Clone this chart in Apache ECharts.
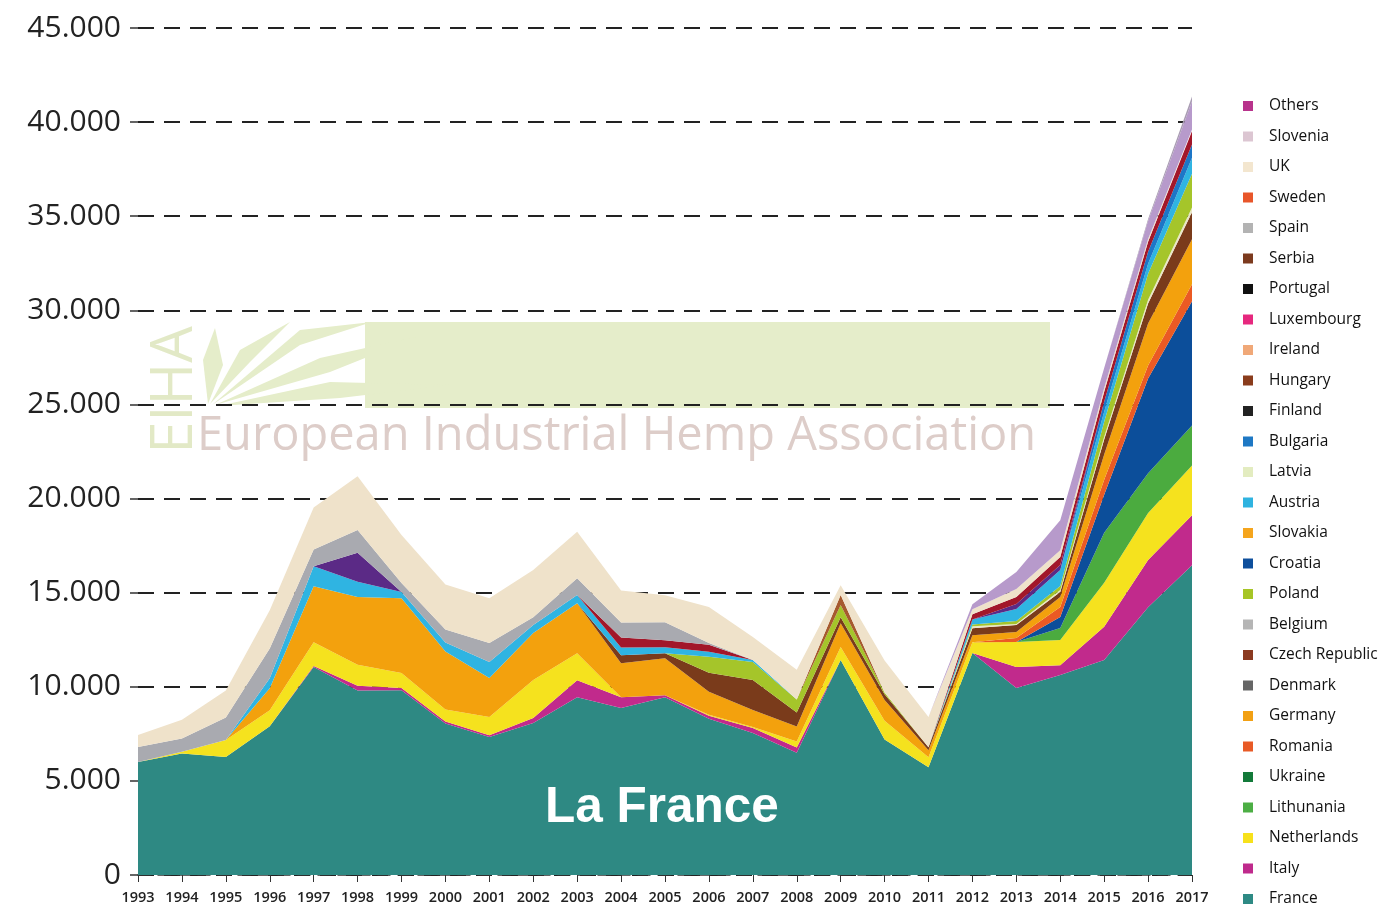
<!DOCTYPE html>
<html>
<head>
<meta charset="utf-8">
<script src="https://cdn.jsdelivr.net/npm/echarts@6/dist/echarts.min.js"></script>
<style>html,body{margin:0;padding:0;background:#fff}#c{width:1385px;height:908px}</style>
</head>
<body>
<div id="c"></div>
<script>
var years = ['1993','1994','1995','1996','1997','1998','1999','2000','2001','2002','2003','2004','2005','2006','2007','2008','2009','2010','2011','2012','2013','2014','2015','2016','2017'];
var yTicks = [0,5000,10000,15000,20000,25000,30000,35000,40000,45000];

var france      = [6000,6450,6270,7900,11050,9800,9820,8050,7330,8070,9450,8870,9450,8300,7540,6500,11420,7200,5730,11790,9930,10620,11420,14230,16460];
var italy       = [0,0,0,0,50,250,110,100,100,270,900,580,100,160,270,270,0,0,0,0,1120,530,1770,2500,2650];
var netherlands = [0,100,900,850,1270,1115,800,640,960,2020,1430,0,0,50,50,320,690,1000,530,580,1330,1330,2340,2500,2650];
var lithunania  = [0,0,0,0,0,0,0,0,0,0,0,0,0,0,0,0,0,0,0,0,0,640,2655,2120,2120];
var ukraine     = [0,0,0,0,0,0,0,0,0,0,0,0,0,0,0,0,0,0,0,0,0,0,0,0,0];
var croatia     = [0,0,0,0,0,0,0,0,0,0,0,0,0,0,0,0,0,0,0,0,0,590,2020,5030,6600];
var romania     = [0,0,0,0,0,0,0,0,0,0,0,0,0,0,0,0,0,0,0,0,210,530,800,690,900];
var germany     = [0,0,0,1170,2970,3610,3980,3080,2070,2500,2660,1800,1960,1220,900,800,1270,1100,370,370,320,530,1330,2230,2400];
var denmark     = [0,0,0,0,0,0,0,0,0,0,0,0,0,0,0,0,0,0,0,0,0,0,0,0,0];
var czech       = [0,0,0,0,0,0,0,0,0,0,0,420,270,1010,1600,740,320,300,160,370,370,270,800,1060,1430];
var latvia      = [0,0,0,0,0,0,0,0,0,0,0,0,0,0,0,0,0,0,0,100,50,100,150,200,250];
var poland      = [0,0,0,0,0,0,0,0,0,0,0,0,0,850,960,690,640,100,0,100,160,210,800,1380,1800];
var hungary     = [0,0,0,0,0,0,0,0,0,0,0,0,0,0,0,0,530,0,0,0,0,0,0,0,0];
var austria     = [0,0,0,530,1060,800,320,480,850,420,440,420,320,270,100,0,0,0,0,270,640,850,530,530,850];
var bulgaria    = [0,0,0,0,0,0,0,0,0,0,0,0,0,0,0,0,0,0,0,0,0,0,530,640,700];
var finland     = [0,0,0,0,0,1540,0,0,0,0,0,0,0,0,0,0,0,0,0,0,270,270,0,0,0];
var serbia      = [0,0,0,0,0,0,0,0,0,0,0,530,370,370,0,0,0,0,0,270,370,420,530,530,700];
var belgium     = [0,0,0,0,0,0,0,0,0,0,0,0,0,0,0,0,0,0,0,0,0,0,0,0,0];
var ireland     = [0,0,0,0,0,0,0,0,0,0,0,0,0,0,0,0,0,0,0,0,0,0,0,0,0];
var luxembourg  = [0,0,0,0,0,0,0,0,0,0,0,0,0,0,0,0,0,0,0,0,0,0,0,0,0];
var portugal    = [0,0,0,0,0,0,0,0,0,0,0,0,0,0,0,0,0,0,0,0,0,0,0,0,0];
var slovakia    = [0,0,0,0,0,0,0,0,0,0,0,0,0,0,0,0,0,0,0,0,0,0,0,0,0];
var sweden      = [0,0,0,0,0,0,0,0,0,0,0,0,0,0,0,0,0,0,0,0,0,0,0,0,0];
var spain       = [800,700,1200,1590,900,1220,480,690,1010,420,880,800,960,100,0,0,0,0,0,0,0,0,0,0,0];
var uk          = [640,1000,1430,2020,2230,2850,2550,2390,2390,2500,2480,1700,1430,1910,1220,1590,530,1700,1600,270,430,370,200,150,100];
var slovenia    = [0,0,0,0,0,0,0,0,0,0,0,0,0,0,0,0,0,0,0,270,900,1590,1060,960,1500];
var others      = [0,0,0,0,0,0,0,0,0,0,0,0,0,0,0,0,0,0,0,0,0,0,0,100,250];

var legendOrder = ['Others','Slovenia','UK','Sweden','Spain','Serbia','Portugal','Luxembourg','Ireland','Hungary','Finland','Bulgaria','Latvia','Austria','Slovakia','Croatia','Poland','Belgium','Czech Republic','Denmark','Germany','Romania','Ukraine','Lithunania','Netherlands','Italy','France'];

// stacking order bottom -> top : [name, data, legend colour, area colour]
var stackDef = [
  ['France', france, '#2e8a84', '#2e8983'],
  ['Italy', italy, '#bf2a8c', '#c12a8c'],
  ['Netherlands', netherlands, '#f7e11b', '#f5e21e'],
  ['Lithunania', lithunania, '#4cae44', '#4bab3f'],
  ['Ukraine', ukraine, '#137a3a', '#137a3a'],
  ['Croatia', croatia, '#0e4f9c', '#0c4e9a'],
  ['Romania', romania, '#e85a26', '#eb5a24'],
  ['Germany', germany, '#f2a013', '#f3a10d'],
  ['Slovakia', slovakia, '#f5a51d', '#f5a51d'],
  ['Denmark', denmark, '#666666', '#666666'],
  ['Czech Republic', czech, '#8b3a20', '#7a3b1b'],
  ['Latvia', latvia, '#e3ecc0', '#eae6c6'],
  ['Poland', poland, '#a6c526', '#a5c52a'],
  ['Hungary', hungary, '#8a3c1c', '#a65a2e'],
  ['Austria', austria, '#2fb3e0', '#2fb4e2'],
  ['Bulgaria', bulgaria, '#1e78c4', '#1d76c7'],
  ['Finland', finland, '#222222', '#5b2a86'],
  ['Serbia', serbia, '#7c3a1e', '#a2172a'],
  ['Belgium', belgium, '#b5b5b5', '#b5b5b5'],
  ['Ireland', ireland, '#f0a878', '#f0a878'],
  ['Luxembourg', luxembourg, '#e6287e', '#e6287e'],
  ['Portugal', portugal, '#111111', '#111111'],
  ['Sweden', sweden, '#e8562a', '#e8562a'],
  ['Spain', spain, '#b3b3b3', '#a9aab0'],
  ['UK', uk, '#f3e6cf', '#efe2ca'],
  ['Slovenia', slovenia, '#dcc6d2', '#b79acb'],
  ['Others', others, '#b8338c', '#a99cb3']
];

var series = stackDef.map(function (d) {
  return {
    name: d[0], type: 'line', stack: 'total', data: d[1],
    symbol: 'none', showSymbol: false,
    lineStyle: { width: 0, color: d[3] },
    itemStyle: { color: d[2] },
    areaStyle: { color: d[3], opacity: 1 },
    emphasis: { disabled: true }
  };
});

var chart = echarts.init(document.getElementById('c'), null, { renderer: 'canvas' });
chart.setOption({
  backgroundColor: '#ffffff',
  animation: false,
  grid: { left: 138, right: 193, top: 28, bottom: 33 },
  legend: {
    orient: 'vertical', left: 1243, top: 98, padding: 0,
    data: legendOrder, icon: 'rect', itemWidth: 10, itemHeight: 10, itemGap: 14.5,
    selectedMode: false,
    textStyle: { fontFamily: 'Open Sans', fontSize: 15.5, color: '#111', lineHeight: 16, padding: [0, 0, 0, 11] }
  },
  xAxis: {
    type: 'category', data: years, boundaryGap: false,
    axisLine: { lineStyle: { color: '#333', type: [12, 8], width: 1.5 } },
    axisTick: { show: true, alignWithLabel: true, interval: 0, length: 7, lineStyle: { color: '#333' } },
    axisLabel: { interval: 0, hideOverlap: false, fontFamily: 'Open Sans', fontSize: 14.5, fontWeight: 600, color: '#222', margin: 15 },
    splitLine: { show: false }
  },
  yAxis: {
    type: 'value', min: 0, max: 45000, interval: 5000,
    axisLine: { show: false },
    axisTick: { show: true, length: 8, lineStyle: { color: '#333', width: 1.5 } },
    axisLabel: {
      fontFamily: 'Open Sans', fontSize: 30, color: '#222', margin: 17,
      formatter: function (v) { return yTicks.indexOf(v) >= 0 ? (v === 0 ? '0' : (v / 1000) + '.000') : ''; }
    },
    splitLine: { show: true, lineStyle: { color: '#222', type: [16, 10], width: 2 } }
  },
  graphic: [
    { type: 'rect', z: -10, silent: true, shape: { x: 365, y: 322, width: 685, height: 86 }, style: { fill: '#e5edca' } },
    { type: 'polygon', z: -10, silent: true, shape: { points: [[212,405],[300,330],[372,322],[300,345]] }, style: { fill: '#e5edca' } },
    { type: 'polygon', z: -10, silent: true, shape: { points: [[215,405],[320,358],[420,336],[330,372]] }, style: { fill: '#e5edca' } },
    { type: 'polygon', z: -10, silent: true, shape: { points: [[218,406],[330,382],[450,385],[340,398]] }, style: { fill: '#e5edca' } },
    { type: 'polygon', z: -10, silent: true, shape: { points: [[210,404],[240,350],[290,322],[250,362]] }, style: { fill: '#e5edca' } },
    { type: 'polygon', z: -10, silent: true, shape: { points: [[208,404],[203,360],[215,328],[223,365]] }, style: { fill: '#e5edca' } },
    { type: 'text', z: -9, silent: true, left: 146, top: 326, rotation: Math.PI / 2, originX: 0, originY: 0,
      style: { text: 'EIHA', fontFamily: 'Open Sans', fontSize: 58, fill: '#e2e9c6' } },
    { type: 'text', z: -9, silent: true, left: 197, top: 413,
      style: { text: 'European Industrial Hemp Association', fontFamily: 'Open Sans', fontSize: 47, fill: '#ddcdc9' } },
    { type: 'text', z: 100, silent: true, left: 545, top: 783,
      style: { text: 'La France', fontFamily: 'Liberation Sans', fontWeight: 'bold', fontSize: 49.5, fill: '#ffffff' } }
  ],
  series: series
});
</script>
</body>
</html>
